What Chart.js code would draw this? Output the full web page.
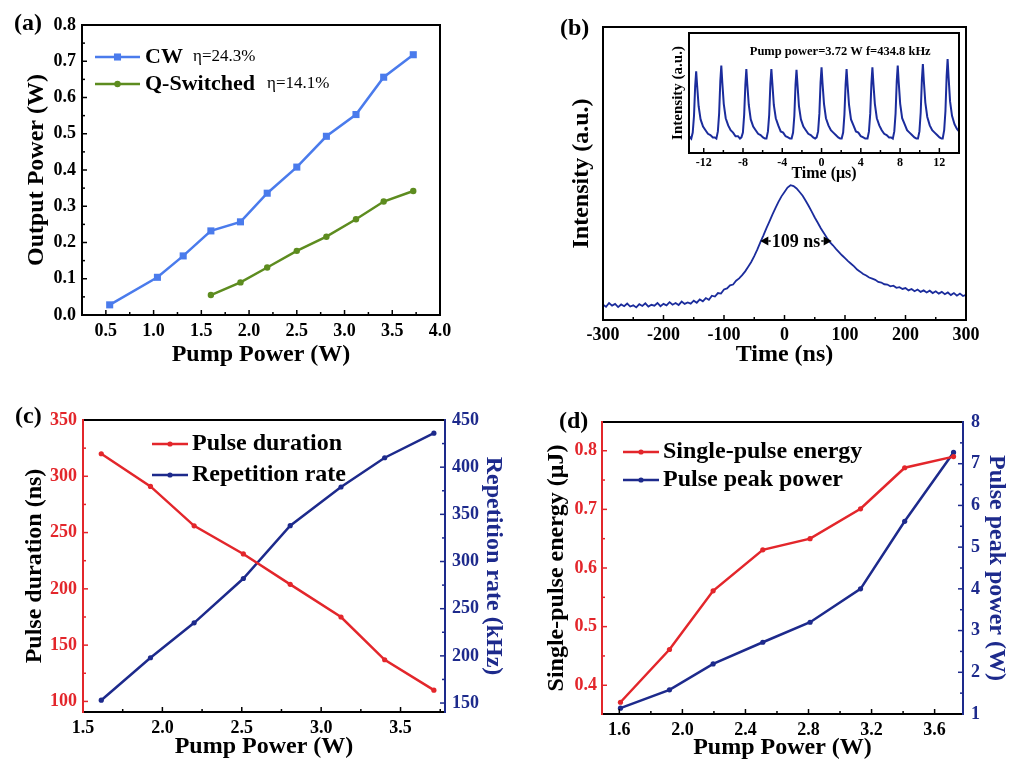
<!DOCTYPE html>
<html><head><meta charset="utf-8">
<script src="https://cdn.jsdelivr.net/npm/chart.js@4.4.1/dist/chart.umd.min.js"></script>
<style>
html,body{margin:0;padding:0;background:#fff;}
body{width:1022px;height:760px;position:relative;overflow:hidden;}
canvas{position:absolute;}
.pl{position:absolute;font:bold 24px "Liberation Serif",serif;line-height:24px;color:#000;}
</style></head><body>
<canvas id="ca" width="500" height="375" style="left:0;top:0"></canvas>
<canvas id="cb" width="482" height="375" style="left:540px;top:0"></canvas>
<canvas id="cbi" width="310" height="160" style="left:660px;top:30px"></canvas>
<canvas id="cc" width="520" height="380" style="left:0;top:380px"></canvas>
<canvas id="cd" width="502" height="380" style="left:520px;top:380px"></canvas>
<div class="pl" style="left:14px;top:10px">(a)</div>
<div class="pl" style="left:560px;top:15px">(b)</div>
<div class="pl" style="left:15px;top:403px">(c)</div>
<div class="pl" style="left:559px;top:408px">(d)</div>
<script>
// ---------- DATA ----------
// (a) output power
const cwPump  = [0.54, 1.04, 1.31, 1.60, 1.91, 2.19, 2.50, 2.81, 3.12, 3.41, 3.72];
const cwPower = [0.028, 0.104, 0.163, 0.232, 0.257, 0.336, 0.408, 0.493, 0.553, 0.656, 0.718];
const qsPump  = [1.60, 1.91, 2.19, 2.50, 2.81, 3.12, 3.41, 3.72];
const qsPower = [0.055, 0.090, 0.131, 0.177, 0.216, 0.264, 0.313, 0.342];
const aXTickLabels = ['0.5','1.0','1.5','2.0','2.5','3.0','3.5','4.0'];
const aYTickLabels = ['0.0','0.1','0.2','0.3','0.4','0.5','0.6','0.7','0.8'];
const aSeriesNames = ['CW', 'Q-Switched'];
const aEfficiency = ['\u03b7=24.3%', '\u03b7=14.1%'];

// (b) single pulse trace (time in ns, intensity a.u.)
const pulseTime = [-300,-295,-290,-285,-280,-275,-270,-265,-260,-255,-250,-245,-240,-235,-230,-225,-220,-215,-210,-205,
  -200,-195,-190,-185,-180,-175,-170,-165,-160,-155,-150,-145,-140,-135,-130,-125,-120,-115,-110,-105,
  -100,-95,-90,-85,-80,-75,-70,-65,-60,-55,-50,-45,-40,-35,-30,-25,-20,-15,-10,-5,
  0,5,10,15,20,25,30,35,40,45,50,55,60,65,70,75,80,85,90,95,
  100,105,110,115,120,125,130,135,140,145,150,155,160,165,170,175,180,185,190,195,
  200,205,210,215,220,225,230,235,240,245,250,255,260,265,270,275,280,285,290,295,300];
const pulseIntensity = [0.052,0.045,0.058,0.049,0.055,0.044,0.053,0.047,0.056,0.046,0.050,0.043,0.054,0.048,0.057,0.046,0.052,0.049,0.058,0.047,
  0.055,0.050,0.061,0.052,0.058,0.051,0.063,0.055,0.060,0.056,0.066,0.059,0.070,0.064,0.075,0.069,0.083,0.080,0.092,0.090,
  0.104,0.108,0.118,0.121,0.134,0.142,0.153,0.166,0.182,0.198,0.218,0.240,0.265,0.288,0.313,0.336,0.360,0.382,0.403,0.422,
  0.437,0.452,0.460,0.457,0.449,0.437,0.424,0.407,0.389,0.370,0.350,0.332,0.313,0.297,0.281,0.266,0.255,0.243,0.232,0.221,
  0.211,0.201,0.192,0.183,0.172,0.165,0.157,0.152,0.145,0.141,0.137,0.130,0.128,0.122,0.121,0.115,0.117,0.110,0.112,0.106,
  0.109,0.101,0.106,0.098,0.104,0.096,0.101,0.094,0.100,0.092,0.098,0.090,0.096,0.088,0.094,0.085,0.092,0.083,0.090,0.082,0.086];
const bXTickLabels = ['-300','-200','-100','0','100','200','300'];
const fwhmFrom = -40, fwhmTo = 78, fwhmLevel = 0.27, fwhmText = '109 ns';

// (b) inset: pulse train (time in us)
const insetTime = [-13.5,
  -13.27,-13.12,-12.99,-12.87,-12.77,-12.67,-12.52,-12.32,-12.07,-11.82,-11.57,-11.32,-11.07,-10.87,
  -10.71,-10.56,-10.43,-10.31,-10.21,-10.11,-9.96,-9.76,-9.51,-9.26,-9.01,-8.76,-8.51,-8.31,
  -8.16,-8.01,-7.88,-7.76,-7.66,-7.56,-7.41,-7.21,-6.96,-6.71,-6.46,-6.21,-5.96,-5.76,
  -5.61,-5.46,-5.33,-5.21,-5.11,-5.01,-4.86,-4.66,-4.41,-4.16,-3.91,-3.66,-3.41,-3.21,
  -3.05,-2.90,-2.77,-2.65,-2.55,-2.45,-2.30,-2.10,-1.85,-1.60,-1.35,-1.10,-0.85,-0.65,
  -0.50,-0.35,-0.22,-0.10,0.00,0.10,0.25,0.45,0.70,0.95,1.20,1.45,1.70,1.90,
  2.05,2.20,2.33,2.45,2.55,2.65,2.80,3.00,3.25,3.50,3.75,4.00,4.25,4.45,
  4.68,4.83,4.96,5.08,5.18,5.28,5.43,5.63,5.88,6.13,6.38,6.63,6.88,7.08,
  7.26,7.41,7.54,7.66,7.76,7.86,8.01,8.21,8.46,8.71,8.96,9.21,9.46,9.66,
  9.82,9.97,10.10,10.22,10.32,10.42,10.57,10.77,11.02,11.27,11.52,11.77,12.02,12.22,
  12.34,12.49,12.62,12.74,12.84,12.94,13.09,13.29,13.54,13.79,14.00];
const insetIntensity = [0.14,
  0.12,0.17,0.31,0.56,0.68,0.56,0.39,0.28,0.22,0.19,0.16,0.15,0.13,0.13,
  0.12,0.18,0.33,0.60,0.728,0.59,0.41,0.29,0.23,0.19,0.17,0.14,0.14,0.12,
  0.13,0.17,0.32,0.57,0.70,0.57,0.40,0.28,0.22,0.19,0.16,0.15,0.13,0.12,
  0.12,0.18,0.32,0.58,0.70,0.58,0.40,0.29,0.23,0.18,0.17,0.14,0.13,0.12,
  0.12,0.17,0.31,0.57,0.694,0.57,0.39,0.28,0.22,0.19,0.16,0.15,0.13,0.12,
  0.13,0.18,0.33,0.59,0.714,0.58,0.41,0.29,0.23,0.19,0.17,0.15,0.13,0.12,
  0.12,0.17,0.32,0.57,0.70,0.57,0.40,0.28,0.23,0.18,0.17,0.14,0.13,0.12,
  0.12,0.18,0.33,0.58,0.714,0.58,0.41,0.29,0.23,0.19,0.16,0.15,0.13,0.13,
  0.12,0.18,0.33,0.60,0.728,0.59,0.41,0.29,0.24,0.19,0.17,0.15,0.13,0.12,
  0.12,0.18,0.34,0.61,0.742,0.60,0.42,0.30,0.23,0.19,0.17,0.15,0.13,0.12,
  0.12,0.19,0.35,0.64,0.783,0.63,0.43,0.31,0.24,0.20,0.18];
const insetXTickLabels = ['-12','-8','-4','0','4','8','12'];
const insetNote = 'Pump power=3.72 W f=434.8 kHz';
const insetNoteX = 1.9, insetNoteY = 0.84;

// (c) pulse duration & repetition rate
const cPump = [1.615, 1.925, 2.20, 2.51, 2.805, 3.125, 3.40, 3.71];
const pulseDuration = [320, 291, 256, 231, 204, 175, 137, 110];
const repetitionRate = [153, 198, 235, 282, 338, 379, 410, 436];
const cXTickLabels = ['1.5','2.0','2.5','3.0','3.5'];
const cYTickLabels = ['100','150','200','250','300','350'];
const cY2TickLabels = ['150','200','250','300','350','400','450'];

// (d) single-pulse energy & peak power
const dPump = [1.607, 1.918, 2.195, 2.51, 2.81, 3.13, 3.41, 3.72];
const pulseEnergy = [0.371, 0.461, 0.561, 0.631, 0.650, 0.701, 0.771, 0.790];
const peakPower = [1.14, 1.58, 2.20, 2.72, 3.20, 4.00, 5.62, 7.27];
const dXTickLabels = ['1.6','2.0','2.4','2.8','3.2','3.6'];
const dYTickLabels = ['0.4','0.5','0.6','0.7','0.8'];
const dY2TickLabels = ['1','2','3','4','5','6','7','8'];

// ---------- STYLE ----------
const SERIF = '"Liberation Serif", "Times New Roman", serif';
const C_CW = '#4a7bec', C_QS = '#5d8c1f', C_TRACE = '#1b2c9c', C_RED = '#e3262b', C_NAVY = '#1d2a8c';

Chart.defaults.font.family = SERIF;
Chart.defaults.font.weight = 'bold';
Chart.defaults.font.size = 18;
Chart.defaults.color = '#000';
Chart.defaults.animation = false;
Chart.defaults.plugins.legend.display = false;
Chart.defaults.plugins.tooltip.enabled = false;

function pts(xs, ys) { return xs.map((x, i) => ({x: x, y: ys[i]})); }
function setTicks(labels) { return s => { s.ticks = labels.map(l => ({value: parseFloat(l)})); }; }
function fmt(labels) { return v => { const l = labels.find(t => Math.abs(parseFloat(t) - v) < 1e-9); return l === undefined ? '' : l; }; }
function axis(o) {
  const vertical = (o.pos === 'left' || o.pos === 'right');
  const a = {
    type: 'linear', position: o.pos, min: o.min, max: o.max,
    grid: {display: false, drawTicks: false, tickLength: 0}, border: {display: false},
    afterFit: s => { if (vertical) s.width = o.size; else s.height = o.size; },
    ticks: {display: !!o.labels, autoSkip: false, maxRotation: 0, minRotation: 0, padding: o.pad === undefined ? 6 : o.pad,
      color: o.color || '#000', font: {size: o.fs || 18, weight: 'bold', family: SERIF}},
    title: {display: !!o.title, text: o.title || '', color: o.titleColor || '#000',
      font: {size: o.tfs || 24, weight: 'bold', family: SERIF, lineHeight: o.tlh || 1.2},
      padding: vertical ? {top: o.tpad, bottom: 0} : {top: 0, bottom: o.tpad}}
  };
  if (o.labels) { a.afterBuildTicks = setTicks(o.labels); a.ticks.callback = fmt(o.labels); }
  return a;
}

// frame + inward ticks
const framePlugin = {
  id: 'frame',
  beforeDraw(chart, args, o) {
    if (!o || !o.fill) return;
    const a = chart.chartArea, ctx = chart.ctx;
    ctx.save(); ctx.fillStyle = o.fill; ctx.fillRect(a.left, a.top, a.right - a.left, a.bottom - a.top); ctx.restore();
  },
  afterDraw(chart, args, o) {
    if (!o || !o.sides) return;
    const a = chart.chartArea, ctx = chart.ctx, w = o.width || 2, h = w / 2;
    ctx.save();
    ctx.lineCap = 'butt';
    (o.ticks || []).forEach(t => {
      const sc = chart.scales[t.scale];
      ctx.strokeStyle = t.color || '#000'; ctx.lineWidth = 1.5;
      const k0 = Math.ceil(sc.min / t.minor - 1e-6), k1 = Math.floor(sc.max / t.minor + 1e-6);
      const ratio = Math.round(t.major / t.minor);
      for (let k = k0; k <= k1; k++) {
        const v = k * t.minor, len = (((k % ratio) + ratio) % ratio === 0) ? 5 : 3;
        const p = sc.getPixelForValue(v);
        ctx.beginPath();
        if (t.edge === 'bottom') { ctx.moveTo(p, a.bottom); ctx.lineTo(p, a.bottom - len); }
        else if (t.edge === 'left') { ctx.moveTo(a.left, p); ctx.lineTo(a.left + len, p); }
        else if (t.edge === 'right') { ctx.moveTo(a.right, p); ctx.lineTo(a.right - len, p); }
        ctx.stroke();
      }
    });
    ctx.lineWidth = w;
    const s = o.sides;
    const seg = (c, x1, y1, x2, y2) => { ctx.strokeStyle = c; ctx.beginPath(); ctx.moveTo(x1, y1); ctx.lineTo(x2, y2); ctx.stroke(); };
    if (s.top) seg(s.top, a.left - h, a.top, a.right + h, a.top);
    if (s.bottom) seg(s.bottom, a.left - h, a.bottom, a.right + h, a.bottom);
    if (s.left) seg(s.left, a.left, a.top - h, a.left, a.bottom + h);
    if (s.right) seg(s.right, a.right, a.top - h, a.right, a.bottom + h);
    ctx.restore();
  }
};

// legend drawn inside plot
const boxLegend = {
  id: 'boxLegend',
  afterDraw(chart, args, o) {
    if (!o || !o.rows) return;
    const ctx = chart.ctx;
    ctx.save();
    chart.data.datasets.forEach((ds, i) => {
      const y = o.y + i * o.rowH;
      ctx.strokeStyle = ds.borderColor; ctx.lineWidth = ds.borderWidth;
      ctx.beginPath(); ctx.moveTo(o.x, y); ctx.lineTo(o.x + o.lineLen, y); ctx.stroke();
      ctx.fillStyle = ds.borderColor;
      Chart.helpers.drawPoint(ctx, {pointStyle: ds.pointStyle || 'circle', radius: ds.pointRadius, rotation: 0, borderWidth: 0}, o.x + o.lineLen / 2, y);
      ctx.fillStyle = '#000'; ctx.font = o.font; ctx.textBaseline = 'middle'; ctx.textAlign = 'left';
      ctx.fillText(ds.label, o.x + o.lineLen + o.gap, y);
      if (o.extras && o.extras[i]) { ctx.font = o.extraFont; ctx.fillText(o.extras[i], o.extraX[i], y); }
    });
    ctx.restore();
  }
};

// FWHM marker and notes (positioned in data units)
const annot = {
  id: 'annot',
  afterDatasetsDraw(chart, args, o) {
    if (!o) return;
    const ctx = chart.ctx, xs = chart.scales.x, ys = chart.scales.y;
    ctx.save();
    if (o.fwhm) {
      const f = o.fwhm;
      const xl = xs.getPixelForValue(f.from), xr = xs.getPixelForValue(f.to), yy = ys.getPixelForValue(f.level);
      ctx.fillStyle = '#000'; ctx.strokeStyle = '#000'; ctx.lineWidth = 1.5;
      ctx.beginPath(); ctx.moveTo(xl, yy); ctx.lineTo(xl + 8, yy - 4.5); ctx.lineTo(xl + 8, yy + 4.5); ctx.closePath(); ctx.fill();
      ctx.beginPath(); ctx.moveTo(xr, yy); ctx.lineTo(xr - 8, yy - 4.5); ctx.lineTo(xr - 8, yy + 4.5); ctx.closePath(); ctx.fill();
      ctx.font = 'bold 18px ' + SERIF; ctx.textAlign = 'center'; ctx.textBaseline = 'middle';
      const cx = (xl + xr) / 2, tw = ctx.measureText(f.text).width;
      ctx.beginPath(); ctx.moveTo(xl + 8, yy); ctx.lineTo(cx - tw / 2 - 1, yy); ctx.moveTo(cx + tw / 2 + 1, yy); ctx.lineTo(xr - 8, yy); ctx.stroke();
      ctx.fillText(f.text, cx, yy + 1);
    }
    (o.notes || []).forEach(n => {
      ctx.font = n.font; ctx.fillStyle = n.color || '#000'; ctx.textAlign = 'center'; ctx.textBaseline = 'middle';
      ctx.fillText(n.text, xs.getPixelForValue(n.x), ys.getPixelForValue(n.y));
    });
    ctx.restore();
  }
};
Chart.register(framePlugin, boxLegend, annot);

// ---------- (a) ----------
new Chart(document.getElementById('ca'), {
  type: 'line',
  data: {datasets: [
    {label: aSeriesNames[0], data: pts(cwPump, cwPower), borderColor: C_CW, backgroundColor: C_CW, borderWidth: 2.5, pointStyle: 'rect', pointRadius: 5, pointBorderWidth: 0, pointBackgroundColor: C_CW},
    {label: aSeriesNames[1], data: pts(qsPump, qsPower), borderColor: C_QS, backgroundColor: C_QS, borderWidth: 2.5, pointStyle: 'circle', pointRadius: 3.2, pointBorderWidth: 0, pointBackgroundColor: C_QS}
  ]},
  options: {
    responsive: false,
    layout: {padding: {left: 0, top: 25, right: 60, bottom: 0}},
    scales: {
      x: axis({pos: 'bottom', min: 0.25, max: 4.0, size: 60, labels: aXTickLabels, pad: 6, title: 'Pump Power (W)', tpad: 5.6}),
      y: axis({pos: 'left', min: 0, max: 0.8, size: 82, labels: aYTickLabels, pad: 6, title: 'Output Power (W)', tpad: 22.6})
    },
    plugins: {
      frame: {width: 2, sides: {top: '#000', bottom: '#000', left: '#000', right: '#000'},
        ticks: [{scale: 'x', edge: 'bottom', major: 0.5, minor: 0.25}, {scale: 'y', edge: 'left', major: 0.1, minor: 0.05}]},
      boxLegend: {rows: true, x: 95, y: 57, rowH: 27, lineLen: 45, gap: 5, font: 'bold 22px ' + SERIF,
        extras: aEfficiency, extraX: [193, 267], extraFont: '17px ' + SERIF}
    }
  }
});

// ---------- (b) main ----------
new Chart(document.getElementById('cb'), {
  type: 'line',
  data: {datasets: [{label: 'Pulse', data: pts(pulseTime, pulseIntensity), borderColor: C_TRACE, borderWidth: 1.8, pointRadius: 0}]},
  options: {
    responsive: false,
    layout: {padding: {left: 0, top: 27, right: 56, bottom: 0}},
    scales: {
      x: axis({pos: 'bottom', min: -300, max: 300, size: 55, labels: bXTickLabels, pad: 4.2, title: 'Time (ns)', tpad: 5.6}),
      y: axis({pos: 'left', min: 0, max: 1, size: 63, title: 'Intensity (a.u.)', tpad: 27.3})
    },
    plugins: {
      frame: {width: 2, sides: {top: '#000', bottom: '#000', left: '#000', right: '#000'},
        ticks: [{scale: 'x', edge: 'bottom', major: 100, minor: 50}]},
      annot: {fwhm: {from: fwhmFrom, to: fwhmTo, level: fwhmLevel, text: fwhmText}}
    }
  }
});

// ---------- (b) inset ----------
new Chart(document.getElementById('cbi'), {
  type: 'line',
  data: {datasets: [{label: 'Pulse train', data: pts(insetTime, insetIntensity), borderColor: C_TRACE, borderWidth: 2.0, pointRadius: 0}]},
  options: {
    responsive: false,
    layout: {padding: {left: 0, top: 3, right: 11, bottom: 0}},
    scales: {
      x: axis({pos: 'bottom', min: -13.5, max: 14, size: 37, labels: insetXTickLabels, fs: 12, pad: 2.5, title: 'Time (\u03bcs)', tfs: 16, tpad: 6.4}),
      y: axis({pos: 'left', min: 0, max: 1, size: 29, title: 'Intensity (a.u.)', tfs: 15, tpad: 9})
    },
    plugins: {
      frame: {fill: '#fff', width: 2, sides: {top: '#000', bottom: '#000', left: '#000', right: '#000'},
        ticks: [{scale: 'x', edge: 'bottom', major: 4, minor: 2}]},
      annot: {notes: [{text: insetNote, x: insetNoteX, y: insetNoteY, font: 'bold 12.5px ' + SERIF}]}
    }
  }
});

// ---------- (c) ----------
new Chart(document.getElementById('cc'), {
  type: 'line',
  data: {datasets: [
    {label: 'Pulse duration', data: pts(cPump, pulseDuration), yAxisID: 'y', borderColor: C_RED, borderWidth: 2.5, pointRadius: 2.6, pointBorderWidth: 0, pointBackgroundColor: C_RED},
    {label: 'Repetition rate', data: pts(cPump, repetitionRate), yAxisID: 'y2', borderColor: C_NAVY, borderWidth: 2.5, pointRadius: 2.6, pointBorderWidth: 0, pointBackgroundColor: C_NAVY}
  ]},
  options: {
    responsive: false,
    layout: {padding: {left: 0, top: 40, right: 0, bottom: 0}},
    scales: {
      x: axis({pos: 'bottom', min: 1.5, max: 3.78, size: 48, labels: cXTickLabels, pad: 5.5, title: 'Pump Power (W)', tlh: 1, tpad: 1.3}),
      y: axis({pos: 'left', min: 90.6, max: 350, size: 83, labels: cYTickLabels, pad: 6, color: C_RED, title: 'Pulse duration (ns)', tpad: 20.6}),
      y2: axis({pos: 'right', min: 140.5, max: 450, size: 75, labels: cY2TickLabels, pad: 7, color: C_NAVY, title: 'Repetition rate (kHz)', titleColor: C_NAVY, tpad: 12.3})
    },
    plugins: {
      frame: {width: 2, sides: {top: '#000', bottom: '#000', left: C_RED, right: C_NAVY},
        ticks: [{scale: 'x', edge: 'bottom', major: 0.5, minor: 0.25},
                {scale: 'y', edge: 'left', major: 50, minor: 25, color: C_RED},
                {scale: 'y2', edge: 'right', major: 50, minor: 25, color: C_NAVY}]},
      boxLegend: {rows: true, x: 152, y: 64, rowH: 31, lineLen: 36, gap: 4, font: 'bold 24px ' + SERIF}
    }
  }
});

// ---------- (d) ----------
new Chart(document.getElementById('cd'), {
  type: 'line',
  data: {datasets: [
    {label: 'Single-pulse energy', data: pts(dPump, pulseEnergy), yAxisID: 'y', borderColor: C_RED, borderWidth: 2.5, pointRadius: 2.6, pointBorderWidth: 0, pointBackgroundColor: C_RED},
    {label: 'Pulse peak power', data: pts(dPump, peakPower), yAxisID: 'y2', borderColor: C_NAVY, borderWidth: 2.5, pointRadius: 2.6, pointBorderWidth: 0, pointBackgroundColor: C_NAVY}
  ]},
  options: {
    responsive: false,
    layout: {padding: {left: 0, top: 42, right: 0, bottom: 0}},
    scales: {
      x: axis({pos: 'bottom', min: 1.49, max: 3.78, size: 46, labels: dXTickLabels, pad: 5.2, title: 'Pump Power (W)', tlh: 1, tpad: 0}),
      y: axis({pos: 'left', min: 0.351, max: 0.849, size: 82, labels: dYTickLabels, pad: 5, color: C_RED, title: 'Single-pulse energy (\u03bcJ)', tpad: 22.3}),
      y2: axis({pos: 'right', min: 1, max: 8, size: 59, labels: dY2TickLabels, pad: 8, color: C_NAVY, title: 'Pulse peak power (W)', titleColor: C_NAVY, tpad: 10.9})
    },
    plugins: {
      frame: {width: 2, sides: {top: '#000', bottom: '#000', left: C_RED, right: C_NAVY},
        ticks: [{scale: 'x', edge: 'bottom', major: 0.4, minor: 0.2},
                {scale: 'y', edge: 'left', major: 0.1, minor: 0.05, color: C_RED},
                {scale: 'y2', edge: 'right', major: 1, minor: 0.5, color: C_NAVY}]},
      boxLegend: {rows: true, x: 103, y: 72, rowH: 28, lineLen: 36, gap: 4, font: 'bold 24px ' + SERIF}
    }
  }
});
</script>
</body></html>
